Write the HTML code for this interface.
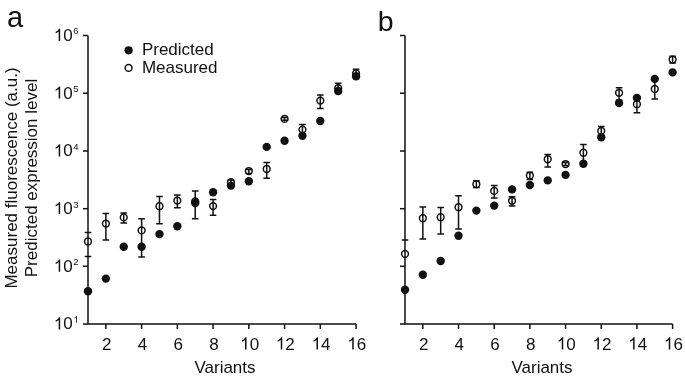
<!DOCTYPE html>
<html><head><meta charset="utf-8"><style>
html,body{margin:0;padding:0;background:#fff;}
body{width:685px;height:381px;overflow:hidden;font-family:"Liberation Sans", sans-serif;}
svg{display:block;will-change:transform;}
</style></head><body>
<svg width="685" height="381" viewBox="0 0 685 381" font-family='"Liberation Sans", sans-serif' fill="#111">
<rect width="685" height="381" fill="#fff"/>
<text x="7" y="26.5" font-size="29">a</text>
<text x="377.8" y="30.7" font-size="28.5">b</text>
<path d="M372 0H284V560Q252 530 200 499Q148 468 106 452V537Q178 571 232 618Q286 665 308 716H372Z" transform="translate(53.85 40.9) scale(0.01700 -0.01700)"/><text x="63.30" y="40.9" font-size="17">0</text>
<text x="73.35" y="34.3" font-size="9.5">6</text>
<path d="M372 0H284V560Q252 530 200 499Q148 468 106 452V537Q178 571 232 618Q286 665 308 716H372Z" transform="translate(53.85 98.6) scale(0.01700 -0.01700)"/><text x="63.30" y="98.6" font-size="17">0</text>
<text x="73.35" y="92.0" font-size="9.5">5</text>
<path d="M372 0H284V560Q252 530 200 499Q148 468 106 452V537Q178 571 232 618Q286 665 308 716H372Z" transform="translate(53.85 156.4) scale(0.01700 -0.01700)"/><text x="63.30" y="156.4" font-size="17">0</text>
<text x="73.35" y="149.8" font-size="9.5">4</text>
<path d="M372 0H284V560Q252 530 200 499Q148 468 106 452V537Q178 571 232 618Q286 665 308 716H372Z" transform="translate(53.85 214.1) scale(0.01700 -0.01700)"/><text x="63.30" y="214.1" font-size="17">0</text>
<text x="73.35" y="207.5" font-size="9.5">3</text>
<path d="M372 0H284V560Q252 530 200 499Q148 468 106 452V537Q178 571 232 618Q286 665 308 716H372Z" transform="translate(53.85 271.7) scale(0.01700 -0.01700)"/><text x="63.30" y="271.7" font-size="17">0</text>
<text x="73.35" y="265.1" font-size="9.5">2</text>
<path d="M372 0H284V560Q252 530 200 499Q148 468 106 452V537Q178 571 232 618Q286 665 308 716H372Z" transform="translate(53.85 329.4) scale(0.01700 -0.01700)"/><text x="63.30" y="329.4" font-size="17">0</text>
<path d="M372 0H284V560Q252 530 200 499Q148 468 106 452V537Q178 571 232 618Q286 665 308 716H372Z" transform="translate(73.35 322.8) scale(0.00950 -0.00950)"/>
<path d="M88.0 35.5 V324.0 H356.05" fill="none" stroke="#111" stroke-width="1.5"/>
<path d="M83.0 35.5 H88.0" stroke="#111" stroke-width="1.5"/>
<path d="M83.0 93.2 H88.0" stroke="#111" stroke-width="1.5"/>
<path d="M83.0 151.0 H88.0" stroke="#111" stroke-width="1.5"/>
<path d="M83.0 208.7 H88.0" stroke="#111" stroke-width="1.5"/>
<path d="M83.0 266.3 H88.0" stroke="#111" stroke-width="1.5"/>
<path d="M83.0 324.0 H88.0" stroke="#111" stroke-width="1.5"/>
<path d="M105.87 324.0 V329.0" stroke="#111" stroke-width="1.5"/>
<text x="101.94" y="349.5" font-size="17">2</text>
<path d="M141.61 324.0 V329.0" stroke="#111" stroke-width="1.5"/>
<text x="137.68" y="349.5" font-size="17">4</text>
<path d="M177.35 324.0 V329.0" stroke="#111" stroke-width="1.5"/>
<text x="173.42" y="349.5" font-size="17">6</text>
<path d="M213.09 324.0 V329.0" stroke="#111" stroke-width="1.5"/>
<text x="209.16" y="349.5" font-size="17">8</text>
<path d="M248.83 324.0 V329.0" stroke="#111" stroke-width="1.5"/>
<path d="M372 0H284V560Q252 530 200 499Q148 468 106 452V537Q178 571 232 618Q286 665 308 716H372Z" transform="translate(240.18 349.5) scale(0.01700 -0.01700)"/><text x="249.63" y="349.5" font-size="17">0</text>
<path d="M284.57 324.0 V329.0" stroke="#111" stroke-width="1.5"/>
<path d="M372 0H284V560Q252 530 200 499Q148 468 106 452V537Q178 571 232 618Q286 665 308 716H372Z" transform="translate(275.92 349.5) scale(0.01700 -0.01700)"/><text x="285.37" y="349.5" font-size="17">2</text>
<path d="M320.31 324.0 V329.0" stroke="#111" stroke-width="1.5"/>
<path d="M372 0H284V560Q252 530 200 499Q148 468 106 452V537Q178 571 232 618Q286 665 308 716H372Z" transform="translate(311.66 349.5) scale(0.01700 -0.01700)"/><text x="321.11" y="349.5" font-size="17">4</text>
<path d="M356.05 324.0 V329.0" stroke="#111" stroke-width="1.5"/>
<path d="M372 0H284V560Q252 530 200 499Q148 468 106 452V537Q178 571 232 618Q286 665 308 716H372Z" transform="translate(347.40 349.5) scale(0.01700 -0.01700)"/><text x="356.85" y="349.5" font-size="17">6</text>
<circle cx="88.00" cy="241.5" r="3.4" fill="none" stroke="#111" stroke-width="1.5"/>
<path d="M84.70 232.5 H91.30 M84.70 256.6 H91.30" fill="none" stroke="#111" stroke-width="1.5"/>
<circle cx="105.87" cy="223.6" r="3.4" fill="none" stroke="#111" stroke-width="1.5"/>
<path d="M105.87 213.6 V240.0 M102.57 213.6 H109.17 M102.57 240.0 H109.17" fill="none" stroke="#111" stroke-width="1.5"/>
<circle cx="123.74" cy="217.4" r="3.4" fill="none" stroke="#111" stroke-width="1.5"/>
<path d="M123.74 212.9 V223.1 M120.44 212.9 H127.04 M120.44 223.1 H127.04" fill="none" stroke="#111" stroke-width="1.5"/>
<circle cx="141.61" cy="230.4" r="3.4" fill="none" stroke="#111" stroke-width="1.5"/>
<path d="M141.61 218.7 V257.1 M138.31 218.7 H144.91 M138.31 257.1 H144.91" fill="none" stroke="#111" stroke-width="1.5"/>
<circle cx="159.48" cy="206.2" r="3.4" fill="none" stroke="#111" stroke-width="1.5"/>
<path d="M159.48 196.5 V223.7 M156.18 196.5 H162.78 M156.18 223.7 H162.78" fill="none" stroke="#111" stroke-width="1.5"/>
<circle cx="177.35" cy="200.6" r="3.4" fill="none" stroke="#111" stroke-width="1.5"/>
<path d="M177.35 194.9 V207.8 M174.05 194.9 H180.65 M174.05 207.8 H180.65" fill="none" stroke="#111" stroke-width="1.5"/>
<circle cx="195.22" cy="201.5" r="3.4" fill="none" stroke="#111" stroke-width="1.5"/>
<path d="M195.22 191.1 V218.8 M191.92 191.1 H198.52 M191.92 218.8 H198.52" fill="none" stroke="#111" stroke-width="1.5"/>
<circle cx="213.09" cy="206.1" r="3.4" fill="none" stroke="#111" stroke-width="1.5"/>
<path d="M213.09 199.4 V215.2 M209.79 199.4 H216.39 M209.79 215.2 H216.39" fill="none" stroke="#111" stroke-width="1.5"/>
<circle cx="230.96" cy="182.2" r="3.4" fill="none" stroke="#111" stroke-width="1.5"/>
<path d="M230.96 180.0 V184.0 M227.66 180.0 H234.26 M227.66 184.0 H234.26" fill="none" stroke="#111" stroke-width="1.5"/>
<circle cx="248.83" cy="171.05" r="3.4" fill="none" stroke="#111" stroke-width="1.5"/>
<path d="M248.83 169.6 V173.6 M245.53 169.6 H252.13 M245.53 173.6 H252.13" fill="none" stroke="#111" stroke-width="1.5"/>
<circle cx="266.70" cy="169.0" r="3.4" fill="none" stroke="#111" stroke-width="1.5"/>
<path d="M266.70 162.5 V178.3 M263.40 162.5 H270.00 M263.40 178.3 H270.00" fill="none" stroke="#111" stroke-width="1.5"/>
<circle cx="284.57" cy="118.9" r="3.4" fill="none" stroke="#111" stroke-width="1.5"/>
<path d="M284.57 117.6 V120.3 M281.27 117.6 H287.87 M281.27 120.3 H287.87" fill="none" stroke="#111" stroke-width="1.5"/>
<circle cx="302.44" cy="129.6" r="3.4" fill="none" stroke="#111" stroke-width="1.5"/>
<path d="M302.44 124.5 V134.5 M299.14 124.5 H305.74 M299.14 134.5 H305.74" fill="none" stroke="#111" stroke-width="1.5"/>
<circle cx="320.31" cy="100.6" r="3.4" fill="none" stroke="#111" stroke-width="1.5"/>
<path d="M320.31 95.0 V108.5 M317.01 95.0 H323.61 M317.01 108.5 H323.61" fill="none" stroke="#111" stroke-width="1.5"/>
<circle cx="338.18" cy="88.2" r="3.4" fill="none" stroke="#111" stroke-width="1.5"/>
<path d="M338.18 83.2 V93.0 M334.88 83.2 H341.48 M334.88 93.0 H341.48" fill="none" stroke="#111" stroke-width="1.5"/>
<circle cx="356.05" cy="73.5" r="3.4" fill="none" stroke="#111" stroke-width="1.5"/>
<path d="M356.05 69.2 V78.5 M352.75 69.2 H359.35 M352.75 78.5 H359.35" fill="none" stroke="#111" stroke-width="1.5"/>
<circle cx="88.00" cy="291.2" r="4.2" fill="#111"/>
<circle cx="105.87" cy="278.6" r="4.2" fill="#111"/>
<circle cx="123.74" cy="246.8" r="4.2" fill="#111"/>
<circle cx="141.61" cy="246.8" r="4.2" fill="#111"/>
<circle cx="159.48" cy="234.1" r="4.2" fill="#111"/>
<circle cx="177.35" cy="226.2" r="4.2" fill="#111"/>
<circle cx="195.22" cy="203.0" r="4.2" fill="#111"/>
<circle cx="213.09" cy="192.2" r="4.2" fill="#111"/>
<circle cx="230.96" cy="185.6" r="4.2" fill="#111"/>
<circle cx="248.83" cy="181.3" r="4.2" fill="#111"/>
<circle cx="266.70" cy="146.9" r="4.2" fill="#111"/>
<circle cx="284.57" cy="140.7" r="4.2" fill="#111"/>
<circle cx="302.44" cy="135.8" r="4.2" fill="#111"/>
<circle cx="320.31" cy="121.0" r="4.2" fill="#111"/>
<circle cx="338.18" cy="91.0" r="4.2" fill="#111"/>
<circle cx="356.05" cy="76.2" r="4.2" fill="#111"/>
<path d="M405.0 35.5 V324.0 H672.60" fill="none" stroke="#111" stroke-width="1.5"/>
<path d="M400.0 35.5 H405.0" stroke="#111" stroke-width="1.5"/>
<path d="M400.0 93.2 H405.0" stroke="#111" stroke-width="1.5"/>
<path d="M400.0 151.0 H405.0" stroke="#111" stroke-width="1.5"/>
<path d="M400.0 208.7 H405.0" stroke="#111" stroke-width="1.5"/>
<path d="M400.0 266.3 H405.0" stroke="#111" stroke-width="1.5"/>
<path d="M400.0 324.0 H405.0" stroke="#111" stroke-width="1.5"/>
<path d="M422.84 324.0 V329.0" stroke="#111" stroke-width="1.5"/>
<text x="418.91" y="349.5" font-size="17">2</text>
<path d="M458.52 324.0 V329.0" stroke="#111" stroke-width="1.5"/>
<text x="454.59" y="349.5" font-size="17">4</text>
<path d="M494.20 324.0 V329.0" stroke="#111" stroke-width="1.5"/>
<text x="490.27" y="349.5" font-size="17">6</text>
<path d="M529.88 324.0 V329.0" stroke="#111" stroke-width="1.5"/>
<text x="525.95" y="349.5" font-size="17">8</text>
<path d="M565.56 324.0 V329.0" stroke="#111" stroke-width="1.5"/>
<path d="M372 0H284V560Q252 530 200 499Q148 468 106 452V537Q178 571 232 618Q286 665 308 716H372Z" transform="translate(556.91 349.5) scale(0.01700 -0.01700)"/><text x="566.36" y="349.5" font-size="17">0</text>
<path d="M601.24 324.0 V329.0" stroke="#111" stroke-width="1.5"/>
<path d="M372 0H284V560Q252 530 200 499Q148 468 106 452V537Q178 571 232 618Q286 665 308 716H372Z" transform="translate(592.59 349.5) scale(0.01700 -0.01700)"/><text x="602.04" y="349.5" font-size="17">2</text>
<path d="M636.92 324.0 V329.0" stroke="#111" stroke-width="1.5"/>
<path d="M372 0H284V560Q252 530 200 499Q148 468 106 452V537Q178 571 232 618Q286 665 308 716H372Z" transform="translate(628.27 349.5) scale(0.01700 -0.01700)"/><text x="637.72" y="349.5" font-size="17">4</text>
<path d="M672.60 324.0 V329.0" stroke="#111" stroke-width="1.5"/>
<path d="M372 0H284V560Q252 530 200 499Q148 468 106 452V537Q178 571 232 618Q286 665 308 716H372Z" transform="translate(663.95 349.5) scale(0.01700 -0.01700)"/><text x="673.40" y="349.5" font-size="17">6</text>
<circle cx="405.00" cy="253.9" r="3.4" fill="none" stroke="#111" stroke-width="1.5"/>
<path d="M401.70 240.0 H408.30" fill="none" stroke="#111" stroke-width="1.5"/>
<circle cx="422.84" cy="218.2" r="3.4" fill="none" stroke="#111" stroke-width="1.5"/>
<path d="M422.84 206.9 V239.0 M419.54 206.9 H426.14 M419.54 239.0 H426.14" fill="none" stroke="#111" stroke-width="1.5"/>
<circle cx="440.68" cy="217.2" r="3.4" fill="none" stroke="#111" stroke-width="1.5"/>
<path d="M440.68 207.5 V234.0 M437.38 207.5 H443.98 M437.38 234.0 H443.98" fill="none" stroke="#111" stroke-width="1.5"/>
<circle cx="458.52" cy="207.2" r="3.4" fill="none" stroke="#111" stroke-width="1.5"/>
<path d="M458.52 195.8 V228.9 M455.22 195.8 H461.82 M455.22 228.9 H461.82" fill="none" stroke="#111" stroke-width="1.5"/>
<circle cx="476.36" cy="184.2" r="3.4" fill="none" stroke="#111" stroke-width="1.5"/>
<path d="M476.36 180.7 V187.6 M473.06 180.7 H479.66 M473.06 187.6 H479.66" fill="none" stroke="#111" stroke-width="1.5"/>
<circle cx="494.20" cy="190.9" r="3.4" fill="none" stroke="#111" stroke-width="1.5"/>
<path d="M494.20 185.4 V198.0 M490.90 185.4 H497.50 M490.90 198.0 H497.50" fill="none" stroke="#111" stroke-width="1.5"/>
<circle cx="512.04" cy="200.8" r="3.4" fill="none" stroke="#111" stroke-width="1.5"/>
<path d="M512.04 196.8 V206.0 M508.74 196.8 H515.34 M508.74 206.0 H515.34" fill="none" stroke="#111" stroke-width="1.5"/>
<circle cx="529.88" cy="175.6" r="3.4" fill="none" stroke="#111" stroke-width="1.5"/>
<path d="M529.88 172.3 V179.5 M526.58 172.3 H533.18 M526.58 179.5 H533.18" fill="none" stroke="#111" stroke-width="1.5"/>
<circle cx="547.72" cy="159.2" r="3.4" fill="none" stroke="#111" stroke-width="1.5"/>
<path d="M547.72 154.4 V166.9 M544.42 154.4 H551.02 M544.42 166.9 H551.02" fill="none" stroke="#111" stroke-width="1.5"/>
<circle cx="565.56" cy="164.05" r="3.4" fill="none" stroke="#111" stroke-width="1.5"/>
<path d="M565.56 162.6 V165.6 M562.26 162.6 H568.86 M562.26 165.6 H568.86" fill="none" stroke="#111" stroke-width="1.5"/>
<circle cx="583.40" cy="152.7" r="3.4" fill="none" stroke="#111" stroke-width="1.5"/>
<path d="M583.40 144.4 V162.0 M580.10 144.4 H586.70 M580.10 162.0 H586.70" fill="none" stroke="#111" stroke-width="1.5"/>
<circle cx="601.24" cy="130.9" r="3.4" fill="none" stroke="#111" stroke-width="1.5"/>
<path d="M601.24 126.6 V136.0 M597.94 126.6 H604.54 M597.94 136.0 H604.54" fill="none" stroke="#111" stroke-width="1.5"/>
<circle cx="619.08" cy="92.8" r="3.4" fill="none" stroke="#111" stroke-width="1.5"/>
<path d="M619.08 87.7 V100.0 M615.78 87.7 H622.38 M615.78 100.0 H622.38" fill="none" stroke="#111" stroke-width="1.5"/>
<circle cx="636.92" cy="104.2" r="3.4" fill="none" stroke="#111" stroke-width="1.5"/>
<path d="M636.92 97.0 V112.8 M633.62 97.0 H640.22 M633.62 112.8 H640.22" fill="none" stroke="#111" stroke-width="1.5"/>
<circle cx="654.76" cy="89.0" r="3.4" fill="none" stroke="#111" stroke-width="1.5"/>
<path d="M654.76 80.0 V99.1 M651.46 80.0 H658.06 M651.46 99.1 H658.06" fill="none" stroke="#111" stroke-width="1.5"/>
<circle cx="672.60" cy="59.6" r="3.4" fill="none" stroke="#111" stroke-width="1.5"/>
<path d="M672.60 56.3 V62.9 M669.30 56.3 H675.90 M669.30 62.9 H675.90" fill="none" stroke="#111" stroke-width="1.5"/>
<circle cx="405.00" cy="289.8" r="4.2" fill="#111"/>
<circle cx="422.84" cy="274.7" r="4.2" fill="#111"/>
<circle cx="440.68" cy="261.0" r="4.2" fill="#111"/>
<circle cx="458.52" cy="235.7" r="4.2" fill="#111"/>
<circle cx="476.36" cy="210.6" r="4.2" fill="#111"/>
<circle cx="494.20" cy="205.6" r="4.2" fill="#111"/>
<circle cx="512.04" cy="189.4" r="4.2" fill="#111"/>
<circle cx="529.88" cy="185.0" r="4.2" fill="#111"/>
<circle cx="547.72" cy="180.4" r="4.2" fill="#111"/>
<circle cx="565.56" cy="174.9" r="4.2" fill="#111"/>
<circle cx="583.40" cy="163.8" r="4.2" fill="#111"/>
<circle cx="601.24" cy="137.2" r="4.2" fill="#111"/>
<circle cx="619.08" cy="103.0" r="4.2" fill="#111"/>
<circle cx="636.92" cy="97.9" r="4.2" fill="#111"/>
<circle cx="654.76" cy="78.9" r="4.2" fill="#111"/>
<circle cx="672.60" cy="72.4" r="4.2" fill="#111"/>
<text x="225" y="373.2" text-anchor="middle" font-size="17">Variants</text>
<text x="542" y="373.2" text-anchor="middle" font-size="17">Variants</text>
<text transform="translate(17 178) rotate(-90)" text-anchor="middle" font-size="17">Measured fluorescence (a.u.)</text>
<text transform="translate(36.8 178) rotate(-90)" text-anchor="middle" font-size="17">Predicted expression level</text>
<circle cx="128.6" cy="50.3" r="4.1" fill="#111"/>
<circle cx="128.6" cy="67.9" r="3.4" fill="none" stroke="#111" stroke-width="1.5"/>
<text x="141.9" y="55.4" font-size="17">Predicted</text>
<text x="141.9" y="73.1" font-size="17">Measured</text>
</svg>
</body></html>
